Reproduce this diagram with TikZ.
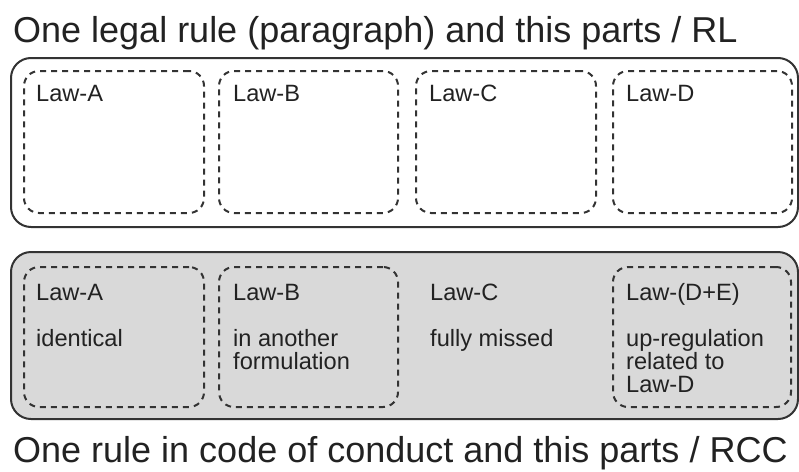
\documentclass[tikz,border=0pt]{standalone}
\usepackage{fontspec}
\setmainfont{Liberation Sans}
\definecolor{linec}{HTML}{333333}
\definecolor{textc}{HTML}{222222}
\definecolor{fillc}{HTML}{D9D9D9}
\begin{document}
\begin{tikzpicture}[x=1pt,y=-1pt,
  outer/.style={draw=linec, line width=2pt, rounded corners=20pt, anchor=north west, inner sep=0pt},
  part/.style={draw=linec, line width=2pt, dash pattern=on 6pt off 5pt, rounded corners=15pt, anchor=north west, inner sep=0pt},
  title/.style={anchor=base west, inner sep=0pt, font=\fontsize{36}{40}\selectfont, text=textc},
  lbl/.style={anchor=base west, inner sep=0pt, align=left, font=\fontsize{23.6}{23}\selectfont, text=textc}]
\useasboundingbox (0,0) rectangle (799,471);
% titles
\node[title] (t1) at (13,42) {One legal rule (paragraph) and this parts / RL};
\node[title] (t2) at (13,462) {One rule in code of conduct and this parts / RCC};
% top box
\node[outer, minimum width=787pt, minimum height=169pt] (rl) at (10,57) {};
\node[part, minimum width=180pt, minimum height=142pt] (ra) at (23,70) {};
\node[part, minimum width=179pt, minimum height=142pt] (rb) at (218,70) {};
\node[part, minimum width=180pt, minimum height=142pt] (rc) at (415,70) {};
\node[part, minimum width=179pt, minimum height=142pt] (rd) at (612,70) {};
\node[lbl] (la) at (36,101) {Law-A};
\node[lbl] (lb) at (233,101) {Law-B};
\node[lbl] (lc) at (429,101) {Law-C};
\node[lbl] (ld) at (626,101) {Law-D};
% bottom box
\node[outer, fill=fillc, minimum width=787pt, minimum height=167pt] (rcc) at (10,251) {};
\node[part, minimum width=180pt, minimum height=140pt] (ca) at (23,266) {};
\node[part, minimum width=179pt, minimum height=140pt] (cb) at (218,266) {};
\node[part, minimum width=178pt, minimum height=140pt] (cd) at (612,266) {};
\node[lbl] (cla) at (36,300) {Law-A};
\node[lbl] (clb) at (233,300) {Law-B};
\node[lbl] (clc) at (430,300) {Law-C};
\node[lbl] (cld) at (626,300) {Law-(D+E)};
\node[lbl] (sa) at (36,346) {identical};
\node[lbl] (sb) at (233,369) {in another\\formulation};
\node[lbl] (sc) at (430,346) {fully missed};
\node[lbl] (sd) at (626,392) {up-regulation\\related to\\Law-D};
\end{tikzpicture}
\end{document}
